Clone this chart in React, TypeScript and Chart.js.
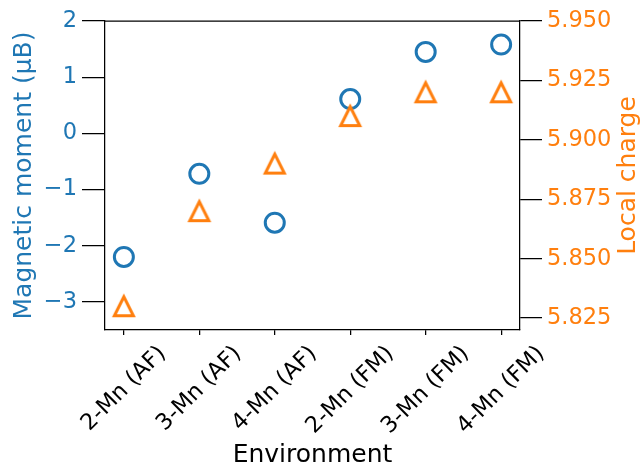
import React, { useEffect, useRef } from "react";
import { Chart, registerables } from "chart.js";

Chart.register(...registerables);

// Categories along the x axis
const environments = ["2-Mn (AF)", "3-Mn (AF)", "4-Mn (AF)", "2-Mn (FM)", "3-Mn (FM)", "4-Mn (FM)"];
// Left axis series (circles)
const magneticMoment = [-2.2, -0.72, -1.59, 0.61, 1.45, 1.58];
// Right axis series (triangles)
const localCharge = [5.83, 5.87, 5.89, 5.91, 5.92, 5.92];
// Tick values
const momentTicks = [-3, -2, -1, 0, 1, 2];
const chargeTicks = [5.825, 5.85, 5.875, 5.9, 5.925, 5.95];

const BLUE = "#1f77b4";
const ORANGE = "#ff7f0e";
const FONT = "'DejaVu Sans', sans-serif";
const TICK_SIZE = 22.5;
const LABEL_SIZE = 25;
const W = 642;
const H = 465;

// Hollow upward triangle marker
function makeTriangle(color: string, half: number, lw: number): HTMLCanvasElement {
  const size = 34;
  const c = document.createElement("canvas");
  c.width = size;
  c.height = size;
  const ctx = c.getContext("2d")!;
  const m = size / 2;
  ctx.beginPath();
  ctx.moveTo(m, m - half);
  ctx.lineTo(m - half, m + half);
  ctx.lineTo(m + half, m + half);
  ctx.closePath();
  ctx.lineWidth = lw;
  ctx.strokeStyle = color;
  ctx.lineJoin = "miter";
  ctx.stroke();
  return c;
}

const decorations = {
  id: "decorations",
  afterDraw(chart: any) {
    const { ctx, chartArea, scales } = chart;
    ctx.save();
    // top spine
    ctx.strokeStyle = "#000";
    ctx.lineWidth = 1.25;
    ctx.beginPath();
    ctx.moveTo(chartArea.left, chartArea.top);
    ctx.lineTo(chartArea.right, chartArea.top);
    ctx.stroke();

    // rotated category labels
    ctx.fillStyle = "#000";
    ctx.font = `${TICK_SIZE}px ${FONT}`;
    ctx.textAlign = "center";
    ctx.textBaseline = "middle";
    const xs = scales.x;
    const topY = chartArea.bottom + 13;
    environments.forEach((label, i) => {
      const px = xs.getPixelForValue(i);
      const w = ctx.measureText(label).width;
      const half = ((w + TICK_SIZE * 0.9) * Math.SQRT1_2) / 2;
      ctx.save();
      ctx.translate(px, topY + half);
      ctx.rotate(-Math.PI / 4);
      ctx.fillText(label, 0, 0);
      ctx.restore();
    });

    // axis titles
    ctx.font = `${LABEL_SIZE}px ${FONT}`;
    const cy = (chartArea.top + chartArea.bottom) / 2;
    ctx.textAlign = "center";
    ctx.textBaseline = "alphabetic";
    ctx.fillText("Environment", (chartArea.left + chartArea.right) / 2, 461.5);

    ctx.textBaseline = "middle";
    ctx.fillStyle = BLUE;
    ctx.save();
    ctx.translate(24, cy);
    ctx.rotate(-Math.PI / 2);
    ctx.fillText("Magnetic moment (\u03bcB)", 0, 0);
    ctx.restore();

    ctx.fillStyle = ORANGE;
    ctx.save();
    ctx.translate(628, cy);
    ctx.rotate(-Math.PI / 2);
    ctx.fillText("Local charge", 0, 0);
    ctx.restore();

    ctx.restore();
  },
};

export default function App() {
  const ref = useRef<HTMLCanvasElement>(null);

  useEffect(() => {
    const canvas = ref.current;
    if (!canvas) return;
    const triangle = makeTriangle(ORANGE, 9.5, 3);

    const chart = new Chart(canvas, {
      type: "scatter",
      data: {
        datasets: [
          {
            label: "Local charge",
            data: environments.map((_, i) => ({ x: i, y: localCharge[i] })),
            yAxisID: "y1",
            pointStyle: triangle as any,
            pointRadius: 12,
            borderColor: ORANGE,
            backgroundColor: "rgba(0,0,0,0)",
            order: 0,
          },
          {
            label: "Magnetic moment",
            data: environments.map((_, i) => ({ x: i, y: magneticMoment[i] })),
            yAxisID: "y",
            pointStyle: "circle",
            pointRadius: 9.5,
            borderWidth: 3,
            borderColor: BLUE,
            backgroundColor: "rgba(0,0,0,0)",
            order: 1,
          },
        ],
      },
      options: {
        animation: false,
        responsive: false,
        events: [],
        layout: { padding: { top: 21, left: 0, right: 0, bottom: 0 } },
        plugins: { legend: { display: false }, tooltip: { enabled: false } },
        scales: {
          x: {
            type: "linear",
            position: "bottom",
            min: -0.25,
            max: 5.25,
            afterBuildTicks: (s: any) => {
              s.ticks = environments.map((_, i) => ({ value: i }));
            },
            afterFit: (s: any) => {
              s.height = H - 330;
            },
            ticks: { display: false },
            grid: { drawOnChartArea: false, drawTicks: true, tickLength: 5, color: "#000", lineWidth: 1.25 },
            border: { color: "#000", width: 1.25 },
          },
          y: {
            type: "linear",
            position: "left",
            min: -3.5,
            max: 2,
            afterBuildTicks: (s: any) => {
              s.ticks = momentTicks.map((v) => ({ value: v }));
            },
            afterFit: (s: any) => {
              s.width = 105;
            },
            ticks: {
              color: BLUE,
              font: { family: FONT, size: TICK_SIZE },
              padding: 5,
              callback: (v: any) => String(v).replace("-", "\u2212"),
            },
            grid: { drawOnChartArea: false, tickLength: 23, color: "#000", lineWidth: 1.25 },
            border: { color: "#000", width: 1.25 },
          },
          y1: {
            type: "linear",
            position: "right",
            min: 5.82,
            max: 5.95,
            afterBuildTicks: (s: any) => {
              s.ticks = chargeTicks.map((v) => ({ value: v }));
            },
            afterFit: (s: any) => {
              s.width = W - 520;
            },
            ticks: {
              color: ORANGE,
              font: { family: FONT, size: TICK_SIZE },
              padding: 5,
              callback: (v: any) => Number(v).toFixed(3),
            },
            grid: { drawOnChartArea: false, tickLength: 22, color: "#000", lineWidth: 1.25 },
            border: { color: "#000", width: 1.25 },
          },
        },
      },
      plugins: [decorations],
    });

    return () => chart.destroy();
  }, []);

  return (
    <div style={{ position: "fixed", left: 0, top: 0, width: W, height: H, background: "#fff" }}>
      <canvas ref={ref} width={W} height={H} />
    </div>
  );
}
